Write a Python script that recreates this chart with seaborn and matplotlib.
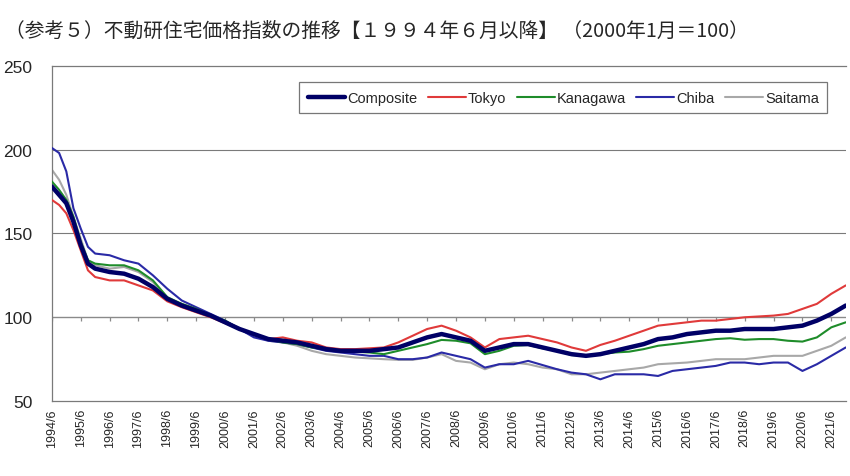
import pandas as pd
import matplotlib.pyplot as plt
import seaborn as sns

# (参考5) Fudoken residential price index, 2000/1 = 100
dates = ["1994-06", "1994-09", "1994-12", "1995-03", "1995-06", "1995-09", "1995-12",
         "1996-06", "1996-12", "1997-06", "1997-12", "1998-06", "1998-12",
         "1999-06", "1999-12", "2000-06", "2000-12", "2001-06", "2001-12",
         "2002-06", "2002-12", "2003-06", "2003-12", "2004-06", "2004-12",
         "2005-06", "2005-12", "2006-06", "2006-12", "2007-06", "2007-12",
         "2008-06", "2008-12", "2009-06", "2009-12", "2010-06", "2010-12",
         "2011-06", "2011-12", "2012-06", "2012-12", "2013-06", "2013-12",
         "2014-06", "2014-12", "2015-06", "2015-12", "2016-06", "2016-12",
         "2017-06", "2017-12", "2018-06", "2018-12", "2019-06", "2019-12",
         "2020-06", "2020-12", "2021-06", "2021-12"]

composite = [178, 173, 168, 157, 143, 132, 129,
             127, 126, 123, 118, 111, 107,
             104, 101, 97, 93, 90, 87,
             86, 85, 83, 81, 80, 80,
             80, 81, 82, 85, 88, 90,
             88, 86, 80, 82, 84, 84,
             82, 80, 78, 77, 78, 80,
             82, 84, 87, 88, 90, 91,
             92, 92, 93, 93, 93, 94,
             95, 98, 102, 107]

tokyo = [170, 167, 162, 152, 140, 128, 124,
         122, 122, 119, 116, 109.5, 106,
         103, 100, 96.5, 93, 90, 87,
         88, 86, 85, 82, 81, 81,
         81.5, 82, 85, 89, 93, 95,
         92, 88, 82, 87, 88, 89,
         87, 85, 82, 80, 83.5, 86,
         89, 92, 95, 96, 97, 98,
         98, 99, 100, 100.5, 101, 102,
         105, 108, 114, 119]

kanagawa = [181, 176, 170, 160, 145, 134, 132,
            131, 131, 128, 122, 112, 108,
            105, 101, 98, 93, 90, 87,
            85, 84, 82, 81, 80, 79.5,
            79, 78, 80, 82, 84, 86.5,
            86, 84.5, 78, 80, 83, 83.5,
            81.5, 80, 77.5, 77, 78, 79,
            79.5, 81, 83, 84, 85, 86,
            87, 87.5, 86.6, 87, 87, 86,
            85.5, 88, 94, 97]

chiba = [201, 198, 187, 165, 153, 142, 138,
         137, 134, 132, 125, 117, 110,
         106, 102, 98, 93, 88, 86,
         85, 84, 82, 80, 79, 78,
         77, 77, 75, 75, 76, 79,
         77, 75, 70, 72, 72, 74,
         71.5, 69, 67, 66, 63, 66,
         66, 66, 65, 68, 69, 70,
         71, 73, 73, 72, 73, 73,
         68, 72, 77, 82]

saitama = [188, 182, 173, 160, 147, 134, 131,
           129, 130, 127, 121, 111, 108,
           105, 101, 98, 93, 89, 86,
           85, 83, 80, 78, 77, 76,
           75.5, 75, 74.6, 74.6, 76, 78,
           74, 73, 69, 72, 73, 72,
           70, 69, 66, 66, 67, 68,
           69, 70, 72, 72.5, 73, 74,
           75, 75, 75, 76, 77, 77,
           77, 80, 83, 88]

series_names = ["Composite", "Tokyo", "Kanagawa", "Chiba", "Saitama"]
series_values = [composite, tokyo, kanagawa, chiba, saitama]
colors = ["#000066", "#e03a3a", "#1e8c2a", "#2a2aa6", "#a8a8a8"]
widths = [3.2, 1.5, 1.5, 1.5, 1.5]
z = [6, 5, 4, 3, 2]

tick_years = list(range(1994, 2022))
tick_dates = pd.to_datetime([f"{y}-06-01" for y in tick_years])
tick_labels = [f"{y}/6" for y in tick_years]

sns.set_theme(style="white")
plt.rcParams['font.family'] = ['Liberation Sans', 'Noto Sans CJK JP', 'DejaVu Sans']

fig = plt.figure(figsize=(8.5, 4.77), dpi=100)
ax = fig.add_axes([0.061, 0.157, 0.934, 0.703])

x = pd.to_datetime(dates)
for name, vals, c, lw, zo in zip(series_names, series_values, colors, widths, z):
    sns.lineplot(x=x, y=vals, ax=ax, color=c, linewidth=lw, label=name, zorder=zo)

ax.set_ylim(50, 250)
ax.set_yticks([50, 100, 150, 200, 250])
ax.set_xlim(pd.Timestamp("1994-06-01"), pd.Timestamp("2021-12-01"))
ax.set_xticks(tick_dates)
ax.set_xticklabels(tick_labels, rotation=90, fontsize=9)
ax.tick_params(axis='x', length=0, pad=5)
ax.tick_params(axis='y', length=0, pad=14, labelsize=12.5)
ax.set_xlabel("")
ax.set_ylabel("")

for yv in [150, 200]:
    ax.axhline(yv, color="#7a7a7a", lw=0.8, zorder=1)
# category axis crossing at 100 with its tick marks
ax.axhline(100, color="#8a8a8a", lw=1.0, zorder=1)
ax.vlines(tick_dates, 97.6, 100, color="#8a8a8a", lw=0.9, zorder=1)

for side in ["left", "top", "bottom"]:
    ax.spines[side].set_color("#7a7a7a")
    ax.spines[side].set_linewidth(0.9)
ax.spines["right"].set_visible(False)

leg = ax.legend(loc="upper right", bbox_to_anchor=(0.977, 0.952), ncol=5,
                fontsize=10.5, frameon=True, fancybox=False, handlelength=2.6,
                handletextpad=0.15, columnspacing=0.7, borderpad=0.6,
                borderaxespad=0.0)
leg.get_frame().set_edgecolor("#555555")
leg.get_frame().set_linewidth(0.9)

fig.text(0.006, 0.935, "（参考５）不動研住宅価格指数の推移【１９９４年６月以降】 （2000年1月＝100）",
         fontsize=14.2, family=['Noto Sans CJK JP', 'DejaVu Sans'], va="center", ha="left")

fig.savefig("out.png", dpi=100)
